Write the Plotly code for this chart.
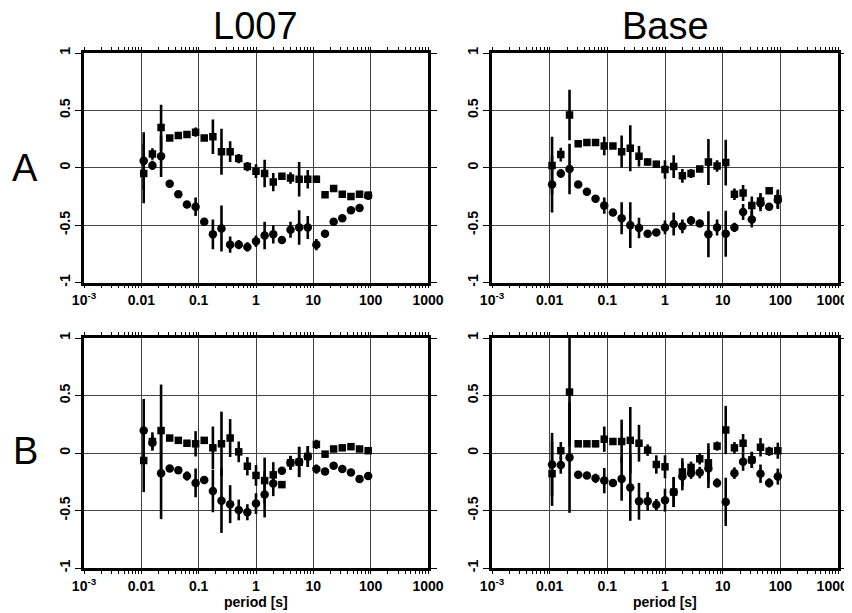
import plotly.graph_objects as go

# ---------------- data ----------------
periods = [0.0110, 0.0156, 0.0221, 0.03125, 0.0442, 0.0625, 0.0884, 0.125, 0.177,
           0.25, 0.354, 0.5, 0.707, 1.0, 1.414, 2.0, 2.83, 4.0, 5.66, 8.0, 11.3,
           16.0, 22.6, 32.0, 45.3, 64.0, 90.5]

# Panel A, L007
a_l007_sq = [-0.05, 0.12, 0.35, 0.26, 0.28, 0.29, 0.31, 0.26, 0.27, 0.14, 0.14, 0.08, 0.01,
             -0.03, -0.05, -0.125, -0.075, -0.09, -0.10, -0.10, -0.10, -0.235, -0.18, -0.23,
             -0.25, -0.23, -0.24]
a_l007_sq_err = [0.26, 0.05, 0.20, 0, 0, 0, 0.04, 0, 0.15, 0.20, 0.09, 0.04, 0.04,
                 0.06, 0.12, 0.08, 0.03, 0.05, 0.15, 0.08, 0.03, 0, 0, 0, 0, 0, 0]
a_l007_ci = [0.06, 0.02, 0.10, -0.14, -0.23, -0.32, -0.34, -0.47, -0.58, -0.53, -0.67, -0.67,
             -0.69, -0.64, -0.59, -0.58, -0.63, -0.54, -0.52, -0.52, -0.67, -0.575, -0.47,
             -0.44, -0.37, -0.35, -0.245]
a_l007_ci_err = [0.25, 0.04, 0.18, 0, 0, 0, 0.08, 0, 0.13, 0.20, 0.07, 0.04, 0.04,
                 0.05, 0.12, 0.08, 0.03, 0.07, 0.15, 0.10, 0.05, 0, 0, 0, 0, 0, 0]

# Panel A, Base
a_base_sq = [0.02, 0.115, 0.46, 0.21, 0.22, 0.22, 0.19, 0.19, 0.14, 0.17, 0.10, 0.05, 0.03,
             -0.015, 0.01, -0.07, -0.05, -0.01, 0.05, 0.015, 0.045, -0.23, -0.22, -0.33,
             -0.29, -0.20, -0.27]
a_base_sq_err = [0.25, 0.06, 0.22, 0, 0, 0, 0.08, 0, 0.14, 0.20, 0.09, 0.03, 0.03,
                 0.08, 0.10, 0.06, 0.04, 0.02, 0.20, 0.05, 0.20, 0.05, 0.07, 0.08, 0.07, 0, 0.08]
a_base_ci = [-0.145, -0.05, -0.01, -0.145, -0.21, -0.27, -0.33, -0.39, -0.44, -0.50, -0.525,
             -0.575, -0.565, -0.52, -0.49, -0.51, -0.46, -0.485, -0.58, -0.52, -0.575, -0.52,
             -0.385, -0.45, -0.31, -0.34, -0.28]
a_base_ci_err = [0.245, 0.04, 0.22, 0, 0, 0, 0.07, 0, 0.14, 0.20, 0.09, 0.03, 0.03,
                 0.06, 0.10, 0.06, 0.04, 0.02, 0.20, 0.07, 0.20, 0.04, 0.07, 0.07, 0.07, 0, 0.08]

# Panel B, L007
b_l007_sq = [-0.065, 0.10, 0.195, 0.13, 0.11, 0.085, 0.08, 0.11, 0.045, 0.08, 0.13, 0.01,
             -0.115, -0.195, -0.24, -0.19, -0.275, -0.085, -0.08, -0.03, 0.075, -0.01, 0.035,
             0.045, 0.055, 0.035, 0.02]
b_l007_sq_err = [0.275, 0.08, 0.40, 0, 0, 0, 0.11, 0, 0.185, 0.28, 0.165, 0.09, 0.08,
                 0.09, 0.20, 0.11, 0, 0.06, 0.13, 0.09, 0.04, 0, 0, 0, 0, 0, 0]
b_l007_ci = [0.195, 0.09, -0.175, -0.135, -0.15, -0.20, -0.26, -0.235, -0.33, -0.415, -0.445,
             -0.495, -0.515, -0.44, -0.36, -0.265, -0.155, -0.085, -0.075, -0.03, -0.14, -0.16,
             -0.11, -0.14, -0.17, -0.225, -0.20]
b_l007_ci_err = [0.275, 0.06, 0.40, 0, 0, 0.04, 0.125, 0, 0.185, 0.28, 0.165, 0.09, 0.07,
                 0.09, 0.20, 0.11, 0, 0.06, 0.13, 0.09, 0.04, 0, 0, 0, 0, 0, 0]

# Panel B, Base
b_base_sq = [-0.18, 0.02, 0.53, 0.08, 0.08, 0.08, 0.12, 0.10, 0.10, 0.11, 0.085, 0.025, -0.10,
             -0.12, -0.34, -0.165, -0.125, -0.05, -0.085, 0.06, 0.20, 0.045, 0.085, -0.06,
             0.05, 0.015, 0.02]
b_base_sq_err = [0.28, 0.075, 0.47, 0, 0, 0.03, 0.11, 0, 0.19, 0.29, 0.16, 0.05, 0.08,
                 0.10, 0.13, 0.12, 0.05, 0.05, 0.17, 0.04, 0.21, 0.05, 0.08, 0.07, 0.08, 0.04, 0.07]
b_base_ci = [-0.10, -0.105, -0.04, -0.19, -0.195, -0.22, -0.24, -0.26, -0.225, -0.30, -0.42,
             -0.42, -0.45, -0.41, -0.34, -0.205, -0.175, -0.17, -0.135, -0.26, -0.425, -0.175,
             -0.075, -0.06, -0.18, -0.26, -0.205]
b_base_ci_err = [0.275, 0.075, 0.48, 0, 0, 0.04, 0.11, 0, 0.19, 0.29, 0.16, 0.08, 0.05,
                 0.10, 0.13, 0.12, 0.05, 0.05, 0.17, 0.04, 0.21, 0.05, 0.08, 0.07, 0.08, 0.04, 0.07]

x_tickvals = [0.001, 0.01, 0.1, 1, 10, 100, 1000]
x_ticktext = ["10<sup>-3</sup>", "0.01", "0.1", "1", "10", "100", "1000"]
y_tickvals = [-1, -0.5, 0, 0.5, 1]
y_ticktext = ["-1", "-0.5", "0", "0.5", "1"]

col_titles = ["L007", "Base"]
row_labels = ["A", "B"]
x_title = "period [s]"

# ---------------- figure ----------------
panels = [
    (a_l007_sq, a_l007_sq_err, a_l007_ci, a_l007_ci_err),
    (a_base_sq, a_base_sq_err, a_base_ci, a_base_ci_err),
    (b_l007_sq, b_l007_sq_err, b_l007_ci, b_l007_ci_err),
    (b_base_sq, b_base_sq_err, b_base_ci, b_base_ci_err),
]

# the page body has an 8px margin: size the figure to the visible area
OFF = 8
W, H = 852 - OFF, 613 - OFF


def px(X):
    return (X - OFF) / W


def py(Y):
    return 1 - (Y - OFF) / H


xdoms = [[px(84), px(428)], [px(492), px(838)]]
ydoms = [[py(282.5), py(53)], [py(568), py(338)]]

tick_font = dict(family="Liberation Sans Narrow, Liberation Sans, Arial", size=14,
                 color="black", weight="bold")

minor_vals = []
for d in [0.001, 0.01, 0.1, 1, 10, 100]:
    for m in range(2, 10):
        minor_vals.append(d * m)

fig = go.Figure()
for i, (sq, sqe, ci, cie) in enumerate(panels):
    r, c = divmod(i, 2)
    ax = "" if i == 0 else str(i + 1)
    for vals, errs, sym, size in [(sq, sqe, "square", 7.5), (ci, cie, "circle", 8.5)]:
        fig.add_trace(go.Scatter(
            x=periods, y=vals, mode="markers",
            marker=dict(symbol=sym, size=size, color="black", line=dict(width=0)),
            error_y=dict(type="data", array=errs, visible=True, color="black",
                         thickness=2.6, width=0),
            xaxis="x" + ax, yaxis="y" + ax, showlegend=False,
        ))
    # on the right-hand panels the last label sits just inside the page edge
    ttext = list(x_ticktext)
    if c == 1:
        ttext[-1] = ttext[-1] + "\u00a0\u00a0\u00a0"
    fig.layout["xaxis" + ax] = dict(
        domain=xdoms[c], anchor="y" + ax, type="log", range=[-3, 3],
        tickmode="array", tickvals=x_tickvals, ticktext=ttext,
        ticks="outside", ticklen=3, tickwidth=1, tickcolor="black",
        showline=True, linewidth=2.5, linecolor="black", mirror="allticks",
        showgrid=True, gridcolor="#444444", gridwidth=1, zeroline=False,
        tickfont=tick_font, automargin=False, ticklabeloverflow="allow",
        minor=dict(tickmode="array", tickvals=minor_vals, ticks="outside", ticklen=3,
                   tickcolor="black", showgrid=False),
    )
    fig.layout["yaxis" + ax] = dict(
        domain=ydoms[r], anchor="x" + ax, range=[-1, 1],
        tickmode="array", tickvals=y_tickvals, ticktext=y_ticktext, tickangle=-90,
        ticks="outside", ticklen=6, tickwidth=1, tickcolor="black",
        showline=True, linewidth=2.5, linecolor="black", mirror="allticks",
        showgrid=True, gridcolor="#444444", gridwidth=1, zeroline=False,
        tickfont=tick_font, automargin=False,
    )

annotations = []
title_font = dict(family="Liberation Sans, Arial", size=38, color="black")
for c, t in enumerate(col_titles):
    annotations.append(dict(text=t, x=(xdoms[c][0] + xdoms[c][1]) / 2, y=py(26),
                            xref="paper", yref="paper", showarrow=False,
                            xanchor="center", yanchor="middle", font=title_font))
for t, yc in [(row_labels[0], 168), (row_labels[1], 451)]:
    annotations.append(dict(text=t, x=px(25), y=py(yc), xref="paper", yref="paper",
                            showarrow=False, xanchor="center", yanchor="middle",
                            font=title_font))
for c in range(2):
    annotations.append(dict(text=x_title, x=(xdoms[c][0] + xdoms[c][1]) / 2, y=py(602),
                            xref="paper", yref="paper", showarrow=False,
                            xanchor="center", yanchor="middle",
                            font=dict(family="Liberation Sans Narrow, Liberation Sans, Arial",
                                      size=14, color="black", weight="bold")))

fig.update_layout(
    width=W, height=H, margin=dict(l=0, r=0, t=0, b=0),
    paper_bgcolor="white", plot_bgcolor="white",
    annotations=annotations, showlegend=False,
)

fig.write_html("out.html")
